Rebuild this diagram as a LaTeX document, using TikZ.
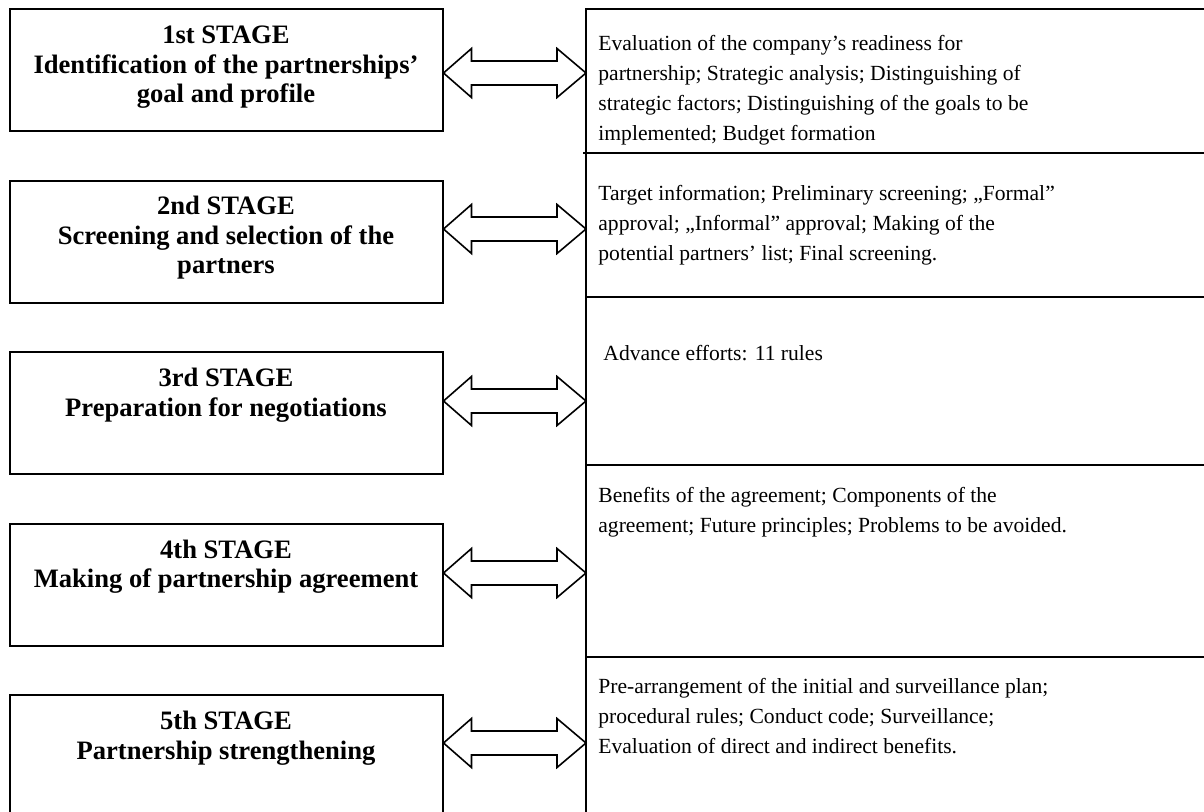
\documentclass[tikz,border=0pt]{standalone}
\usepackage{fontspec}
\setmainfont{Liberation Serif}
\usetikzlibrary{calc}
\tikzset{
  stagebox/.style={draw, line width=1pt, rectangle, minimum width=216.5pt, minimum height=61pt, inner sep=0pt},
  stagetext/.style={anchor=north, align=center, inner sep=0pt, font=\bfseries\fontsize{13.3}{14.75}\selectfont},
  desctext/.style={anchor=north west, align=left, inner sep=0pt, font=\fontsize{10.8}{15}\selectfont},
  panelline/.style={line width=1pt},
  dblarrow/.style={draw, line width=0.8pt, line join=miter, fill=white},
}
\newcommand\dblarr[2]{\draw[dblarrow] (#1) -- ($(#1)+(28,-24.5)$) -- ($(#1)+(28,-12)$) -- ($(#2)+(-29,-12)$) -- ($(#2)+(-29,-24.5)$) -- (#2) -- ($(#2)+(-29,24.5)$) -- ($(#2)+(-29,12)$) -- ($(#1)+(28,12)$) -- ($(#1)+(28,24.5)$) -- cycle;}
\begin{document}
\begin{tikzpicture}[x=0.5pt, y=-0.5pt]
\clip (0,0) rectangle (1204,812);
\fill[white] (0,0) rectangle (1204,812);

% left stage boxes
\node[stagebox] (s1) at (226,70) {};
\node[stagebox] (s2) at (226,242) {};
\node[stagebox] (s3) at (226,413) {};
\node[stagebox] (s4) at (226,584.5) {};
\node[stagebox] (s5) at (226,756) {};

\node[stagetext] (t1) at ($(s1.north)+(0,14.5)$) {\strut 1st STAGE\\Identification of the partnerships’\\goal and profile};
\node[stagetext] (t2) at ($(s2.north)+(0,13.5)$) {\strut 2nd STAGE\\Screening and selection of the\\partners};
\node[stagetext] (t3) at ($(s3.north)+(0,14.5)$) {\strut 3rd STAGE\\Preparation for negotiations};
\node[stagetext] (t4) at ($(s4.north)+(0,14.5)$) {\strut 4th STAGE\\Making of partnership agreement};
\node[stagetext] (t5) at ($(s5.north)+(0,14.5)$) {\strut 5th STAGE\\Partnership strengthening};

% right panel
\draw[panelline] (1210,9) -- (586,9) -- (586,820);
\draw[panelline] (583,153) -- (1210,153);
\draw[panelline] (586,297) -- (1210,297);
\draw[panelline] (586,465) -- (1210,465);
\draw[panelline] (586,657) -- (1210,657);

\node[desctext] (r1) at (598,29) {\strut Evaluation of the company’s readiness for\\partnership; Strategic analysis; Distinguishing of\\strategic factors; Distinguishing of the goals to be\\implemented; Budget formation};
\node[desctext] (r2) at (598,179) {\strut Target information; Preliminary screening; „Formal”\\approval; „Informal” approval; Making of the\\potential partners’ list; Final screening.};
\node[desctext] (r3) at (603,339) {\strut Advance efforts: 11 rules};
\node[desctext] (r4) at (598,481) {\strut Benefits of the agreement; Components of the\\agreement; Future principles; Problems to be avoided.};
\node[desctext] (r5) at (598,672) {\strut Pre-arrangement of the initial and surveillance plan;\\procedural rules; Conduct code; Surveillance;\\Evaluation of direct and indirect benefits.};

% arrow end points
\coordinate (a1) at (s1.east |- 0,73);
\coordinate (a2) at (s2.east |- 0,229);
\coordinate (a3) at (s3.east |- 0,401);
\coordinate (a4) at (s4.east |- 0,573);
\coordinate (a5) at (s5.east |- 0,743);
\coordinate (c1) at (586,73);
\coordinate (c2) at (586,229);
\coordinate (c3) at (586,401);
\coordinate (c4) at (586,573);
\coordinate (c5) at (586,743);

\dblarr{a1}{c1}
\dblarr{a2}{c2}
\dblarr{a3}{c3}
\dblarr{a4}{c4}
\dblarr{a5}{c5}
\end{tikzpicture}
\end{document}
